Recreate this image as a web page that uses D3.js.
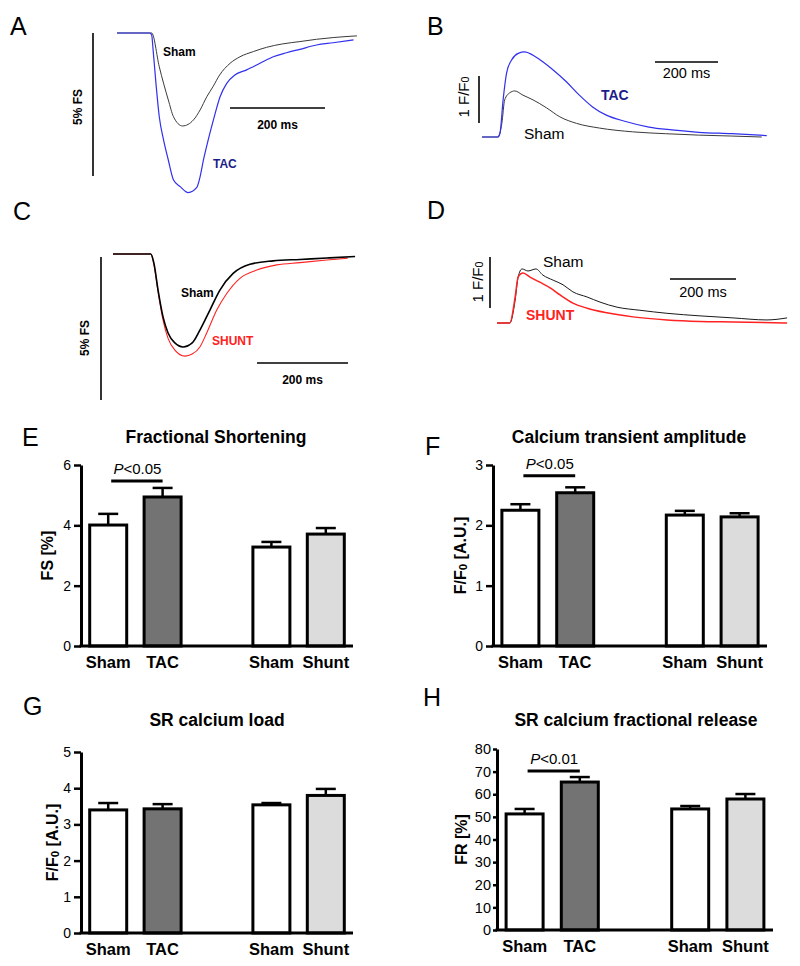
<!DOCTYPE html>
<html><head><meta charset="utf-8">
<script src="https://cdn.jsdelivr.net/npm/d3@7"></script>
<style>
body{margin:0;background:#fff}
svg{display:block}
text{font-family:"Liberation Sans",Arial,Helvetica,sans-serif;fill:#000}
</style>
</head><body>
<svg id="c" width="800" height="966"></svg>
<script>
// ---------- Trace data (time in ms, value) ----------
// A: unloaded cell shortening (% FS), Sham vs TAC
const aShamT = [0,69,73,89,108,119,138,161,175,189,202,216,238,259,287,315,349,385,420,455,505];
const aShamV = [0,0,0,1.18,2.34,2.93,3.25,3.04,2.69,2.23,1.88,1.47,1.06,0.83,0.65,0.50,0.38,0.30,0.22,0.16,0.10];
const aTacT  = [0,69,73,76,82,89,98,108,119,133,150,168,175,182,192,203,217,231,248,273,301,329,357,385,420,455,498];
const aTacV  = [0,0,0.07,0.59,1.76,2.93,3.74,4.44,5.14,5.37,5.58,5.40,5.02,4.44,3.74,3.04,2.23,1.76,1.47,1.29,1.06,0.83,0.69,0.57,0.42,0.34,0.24];
// B: calcium transient (F/F0), Sham vs TAC
const bTacT  = [0,50,57,67,78,94,115,136,162,193,225,267,309,351,393,456,530,603,688,793,904];
const bTacV  = [0,0,0.08,0.79,1.36,1.64,1.78,1.81,1.74,1.60,1.43,1.18,0.89,0.64,0.47,0.33,0.21,0.15,0.10,0.07,0.03];
const bShamT = [0,51,63,72,88,104,130,162,205,247,300,373,478,583,688,793,888];
const bShamV = [0,0,0.29,0.79,0.94,0.98,0.89,0.79,0.62,0.43,0.29,0.19,0.11,0.07,0.04,0.02,0.0];
// C: cell shortening (% FS), Sham vs SHUNT
const cShamT  = [0,83,90,99,110,121,136,154,174,191,213,235,264,301,352,411,470,532];
const cShamV  = [0,0,0.33,1.26,2.2,2.76,3.11,3.25,3.11,2.66,1.96,1.26,0.68,0.36,0.24,0.19,0.14,0.09];
const cShuntT = [0,83,90,99,110,121,136,158,174,191,206,228,250,279,316,360,411,470,516];
const cShuntV = [0,0,0.38,1.31,2.31,2.95,3.36,3.57,3.5,3.25,2.76,1.96,1.38,0.85,0.56,0.38,0.3,0.21,0.15];
// D: calcium transient (F/F0), Sham vs SHUNT
const dShamT  = [0,39,55,64,76,94,118,139,170,200,230,273,312,364,433,515,615,715,818,879];
const dShamV  = [0,0,0.45,0.9,1.06,1.02,1.06,0.94,0.84,0.75,0.61,0.51,0.41,0.31,0.25,0.19,0.14,0.10,0.06,0.10];
const dShuntT = [0,39,55,64,79,100,130,161,191,230,273,333,412,515,615,715,879];
const dShuntV = [0,0,0.51,0.9,0.98,0.9,0.8,0.69,0.55,0.39,0.29,0.2,0.12,0.06,0.03,0.02,0.0];

// ---------- Bar data ----------
const barCategories = ["Sham","TAC","Sham","Shunt"];
const barSlots = [0,1,3,4];
const barFills = ["#ffffff","#737373","#ffffff","#dcdcdc"];
const fsMean = [4.01,4.94,3.28,3.71];
const fsErr  = [0.37,0.30,0.17,0.20];
const fsTicks = [0,2,4,6];
const caAmpMean = [2.25,2.54,2.17,2.14];
const caAmpErr  = [0.10,0.09,0.07,0.06];
const caAmpTicks = [0,1,2,3];
const srLoadMean = [3.40,3.43,3.54,3.80];
const srLoadErr  = [0.19,0.13,0.05,0.18];
const srLoadTicks = [0,1,2,3,4,5];
const frMean = [51.3,65.4,53.5,57.9];
const frErr  = [2.2,2.2,1.3,2.2];
const frTicks = [0,10,20,30,40,50,60,70,80];

const svg = d3.select("#c");

function zip(t,v){ return t.map((d,i)=>[d,v[i]]); }

function letter(ch,x,y){
  svg.append("text").attr("x",x).attr("y",y).attr("font-size",25).text(ch);
}
function rotText(x,y,size,weight,build){
  const t = svg.append("text").attr("transform",`translate(${x},${y}) rotate(-90)`)
    .attr("text-anchor","middle").attr("dominant-baseline","central")
    .attr("font-size",size).attr("font-weight",weight);
  build(t);
  return t;
}
function ffo(t, prefix, suffix){
  t.append("tspan").text(prefix+"F/F");
  t.append("tspan").attr("font-size","0.72em").attr("baseline-shift","-22%").text("0");
  if(suffix) t.append("tspan").text(suffix);
}

function tracePanel(cfg){
  const x = d3.scaleLinear().domain([0,200]).range([cfg.x0, cfg.x0+cfg.px200]);
  const y = d3.scaleLinear().domain([0,cfg.vUnit]).range([cfg.y0, cfg.y0+cfg.pxUnit]);
  const line = d3.line().x(d=>x(d[0])).y(d=>y(d[1])).curve(d3.curveMonotoneX);
  cfg.series.forEach(s=>{
    svg.append("path").datum(zip(s.t,s.v)).attr("d",line)
      .attr("fill","none").attr("stroke",s.color).attr("stroke-width",s.w);
  });
  const vb = cfg.vbar;
  svg.append("line").attr("x1",vb.x).attr("x2",vb.x)
    .attr("y1",vb.y).attr("y2",vb.y+Math.abs(y(cfg.vUnit)-y(0)))
    .attr("stroke","#000").attr("stroke-width",1.6);
  const hb = cfg.hbar;
  svg.append("line").attr("x1",hb.x).attr("x2",hb.x+(x(200)-x(0)))
    .attr("y1",hb.y).attr("y2",hb.y).attr("stroke","#000").attr("stroke-width",1.6);
  svg.append("text").attr("x",hb.x+(x(200)-x(0))/2).attr("y",hb.ty)
    .attr("text-anchor","middle").attr("font-size",cfg.fs).attr("font-weight",cfg.fw).text("200 ms");
  cfg.labels.forEach(l=>{
    svg.append("text").attr("x",l.x).attr("y",l.y).attr("font-size",l.size)
      .attr("font-weight",l.weight).style("fill",l.color).text(l.text);
  });
}

// Panel A
letter("A",10,35);
tracePanel({x0:117,px200:95,y0:33,pxUnit:143,vUnit:5,
  series:[{t:aShamT,v:aShamV,color:"#3a3a3a",w:1},{t:aTacT,v:aTacV,color:"#3030ee",w:1.2}],
  vbar:{x:93,y:33}, hbar:{x:230,y:108,ty:129}, fs:12, fw:"bold",
  labels:[{x:163,y:56,text:"Sham",size:12,weight:"bold",color:"#000"},
          {x:213,y:168,text:"TAC",size:12,weight:"bold",color:"#1c1c8a"}]});
rotText(78,107,12,"bold",t=>t.text("5% FS"));

// Panel B
letter("B",427,35);
tracePanel({x0:482,px200:63,y0:137,pxUnit:-47,vUnit:1,
  series:[{t:bShamT,v:bShamV,color:"#3a3a3a",w:1},{t:bTacT,v:bTacV,color:"#3030ee",w:1.2}],
  vbar:{x:479,y:76}, hbar:{x:655,y:62,ty:78}, fs:14.5, fw:"normal",
  labels:[{x:601,y:100,text:"TAC",size:14,weight:"bold",color:"#1c1c8a"},
          {x:524,y:139,text:"Sham",size:15.5,weight:"normal",color:"#000"}]});
rotText(463,97,15,"normal",t=>ffo(t,"1 ",""));

// Panel C
letter("C",13,220);
tracePanel({x0:113,px200:91,y0:254,pxUnit:143,vUnit:5,
  series:[{t:cShuntT,v:cShuntV,color:"#ff2222",w:1.1},{t:cShamT,v:cShamV,color:"#000",w:1.6}],
  vbar:{x:101,y:257}, hbar:{x:257,y:363,ty:384}, fs:12, fw:"bold",
  labels:[{x:181,y:297,text:"Sham",size:12,weight:"bold",color:"#000"},
          {x:212,y:345,text:"SHUNT",size:12,weight:"bold",color:"#ff2222"}]});
rotText(85,338,12,"bold",t=>t.text("5% FS"));

// Panel D
letter("D",427,219);
tracePanel({x0:497,px200:66,y0:323,pxUnit:-51,vUnit:1,
  series:[{t:dShamT,v:dShamV,color:"#1a1a1a",w:1},{t:dShuntT,v:dShuntV,color:"#ff2222",w:1.5}],
  vbar:{x:490,y:257}, hbar:{x:670,y:279,ty:297}, fs:14.5, fw:"normal",
  labels:[{x:543,y:267,text:"Sham",size:15.5,weight:"normal",color:"#000"},
          {x:526,y:320,text:"SHUNT",size:14,weight:"bold",color:"#ff2222"}]});
rotText(477,282,15,"normal",t=>ffo(t,"1 ",""));

// ---------- Bar panels ----------
function barPanel(cfg){
  const g = svg.append("g");
  const x = d3.scaleBand().domain(d3.range(5)).range([cfg.x0,cfg.x1]).paddingInner(0).paddingOuter(0);
  const step = x.step();
  const cx = i => x(barSlots[i]) + step/2;
  const y = d3.scaleLinear().domain(cfg.domain).range([cfg.yb,cfg.yt]);
  const bw = 37;
  cfg.mean.forEach((m,i)=>{
    g.append("line").attr("x1",cx(i)).attr("x2",cx(i)).attr("y1",y(m)).attr("y2",y(m+cfg.err[i]))
      .attr("stroke","#000").attr("stroke-width",2.5);
    g.append("line").attr("x1",cx(i)-10).attr("x2",cx(i)+10).attr("y1",y(m+cfg.err[i])).attr("y2",y(m+cfg.err[i]))
      .attr("stroke","#000").attr("stroke-width",2.5);
    g.append("rect").attr("x",cx(i)-bw/2).attr("y",y(m)).attr("width",bw).attr("height",y(0)-y(m))
      .attr("fill",barFills[i]).attr("stroke","#000").attr("stroke-width",3);
  });
  const ax = d3.axisLeft(y).tickValues(cfg.ticks).tickFormat(d3.format("d"))
    .tickSize(cfg.tk).tickSizeOuter(0).tickPadding(cfg.tp);
  const ag = g.append("g").attr("transform",`translate(${cfg.x0},0)`).call(ax);
  ag.attr("font-size",cfg.tfs).attr("font-family","Liberation Sans, Arial, sans-serif");
  ag.select(".domain").attr("stroke-width",3).attr("stroke","#000");
  ag.selectAll(".tick line").attr("stroke-width",2.5).attr("stroke","#000");
  ag.selectAll(".tick text").style("fill","#000");
  g.append("line").attr("x1",cfg.x0-1.5).attr("x2",cfg.x1).attr("y1",y(0)).attr("y2",y(0))
    .attr("stroke","#000").attr("stroke-width",3);
  barCategories.forEach((c,i)=>{
    g.append("text").attr("x",cx(i)).attr("y",y(0)+22).attr("text-anchor","middle")
      .attr("font-size",16.5).attr("font-weight","bold").text(c);
  });
  g.append("text").attr("x",cfg.tx).attr("y",cfg.ty).attr("text-anchor","middle")
    .attr("font-size",17.5).attr("font-weight","bold").text(cfg.title);
  rotText(cfg.x0-cfg.ylo,(cfg.yt+cfg.yb)/2,16,"bold",cfg.ylabel);
  if(cfg.sig){
    const sy = y(cfg.sig.level);
    g.append("line").attr("x1",cx(0)+3).attr("x2",cx(1)).attr("y1",sy).attr("y2",sy)
      .attr("stroke","#000").attr("stroke-width",3);
    const t = g.append("text").attr("x",(cx(0)+cx(1))/2+2).attr("y",sy-7).attr("text-anchor","middle")
      .attr("font-size",15);
    t.append("tspan").attr("font-style","italic").text("P");
    t.append("tspan").text(cfg.sig.text);
  }
  letter(cfg.letter, cfg.lx, cfg.ly);
}

barPanel({x0:81,x1:353,yb:646,yt:465,domain:[0,6],ticks:fsTicks,mean:fsMean,err:fsErr,
  title:"Fractional Shortening",tx:216,ty:443,letter:"E",lx:22,ly:446,ylo:34,tk:7,tp:3,tfs:14,
  ylabel:t=>t.text("FS [%]"), sig:{level:5.47,text:"<0.05"}});
barPanel({x0:493,x1:767,yb:646,yt:465,domain:[0,3],ticks:caAmpTicks,mean:caAmpMean,err:caAmpErr,
  title:"Calcium transient amplitude",tx:629,ty:443,letter:"F",lx:425,ly:455,ylo:33,tk:7,tp:3,tfs:14,
  ylabel:t=>ffo(t,""," [A.U.]"), sig:{level:2.82,text:"<0.05"}});
barPanel({x0:81,x1:353,yb:933,yt:752,domain:[0,5],ticks:srLoadTicks,mean:srLoadMean,err:srLoadErr,
  title:"SR calcium load",tx:217,ty:726,letter:"G",lx:23,ly:715,ylo:29,tk:7,tp:3,tfs:14,
  ylabel:t=>ffo(t,""," [A.U.]"), sig:null});
barPanel({x0:497,x1:773,yb:930,yt:749,domain:[0,80],ticks:frTicks,mean:frMean,err:frErr,
  title:"SR calcium fractional release",tx:636,ty:726,letter:"H",lx:423,ly:706,ylo:36,tk:4,tp:2,tfs:14.5,
  ylabel:t=>t.text("FR [%]"), sig:{level:70.3,text:"<0.01"}});
</script>
</body></html>
